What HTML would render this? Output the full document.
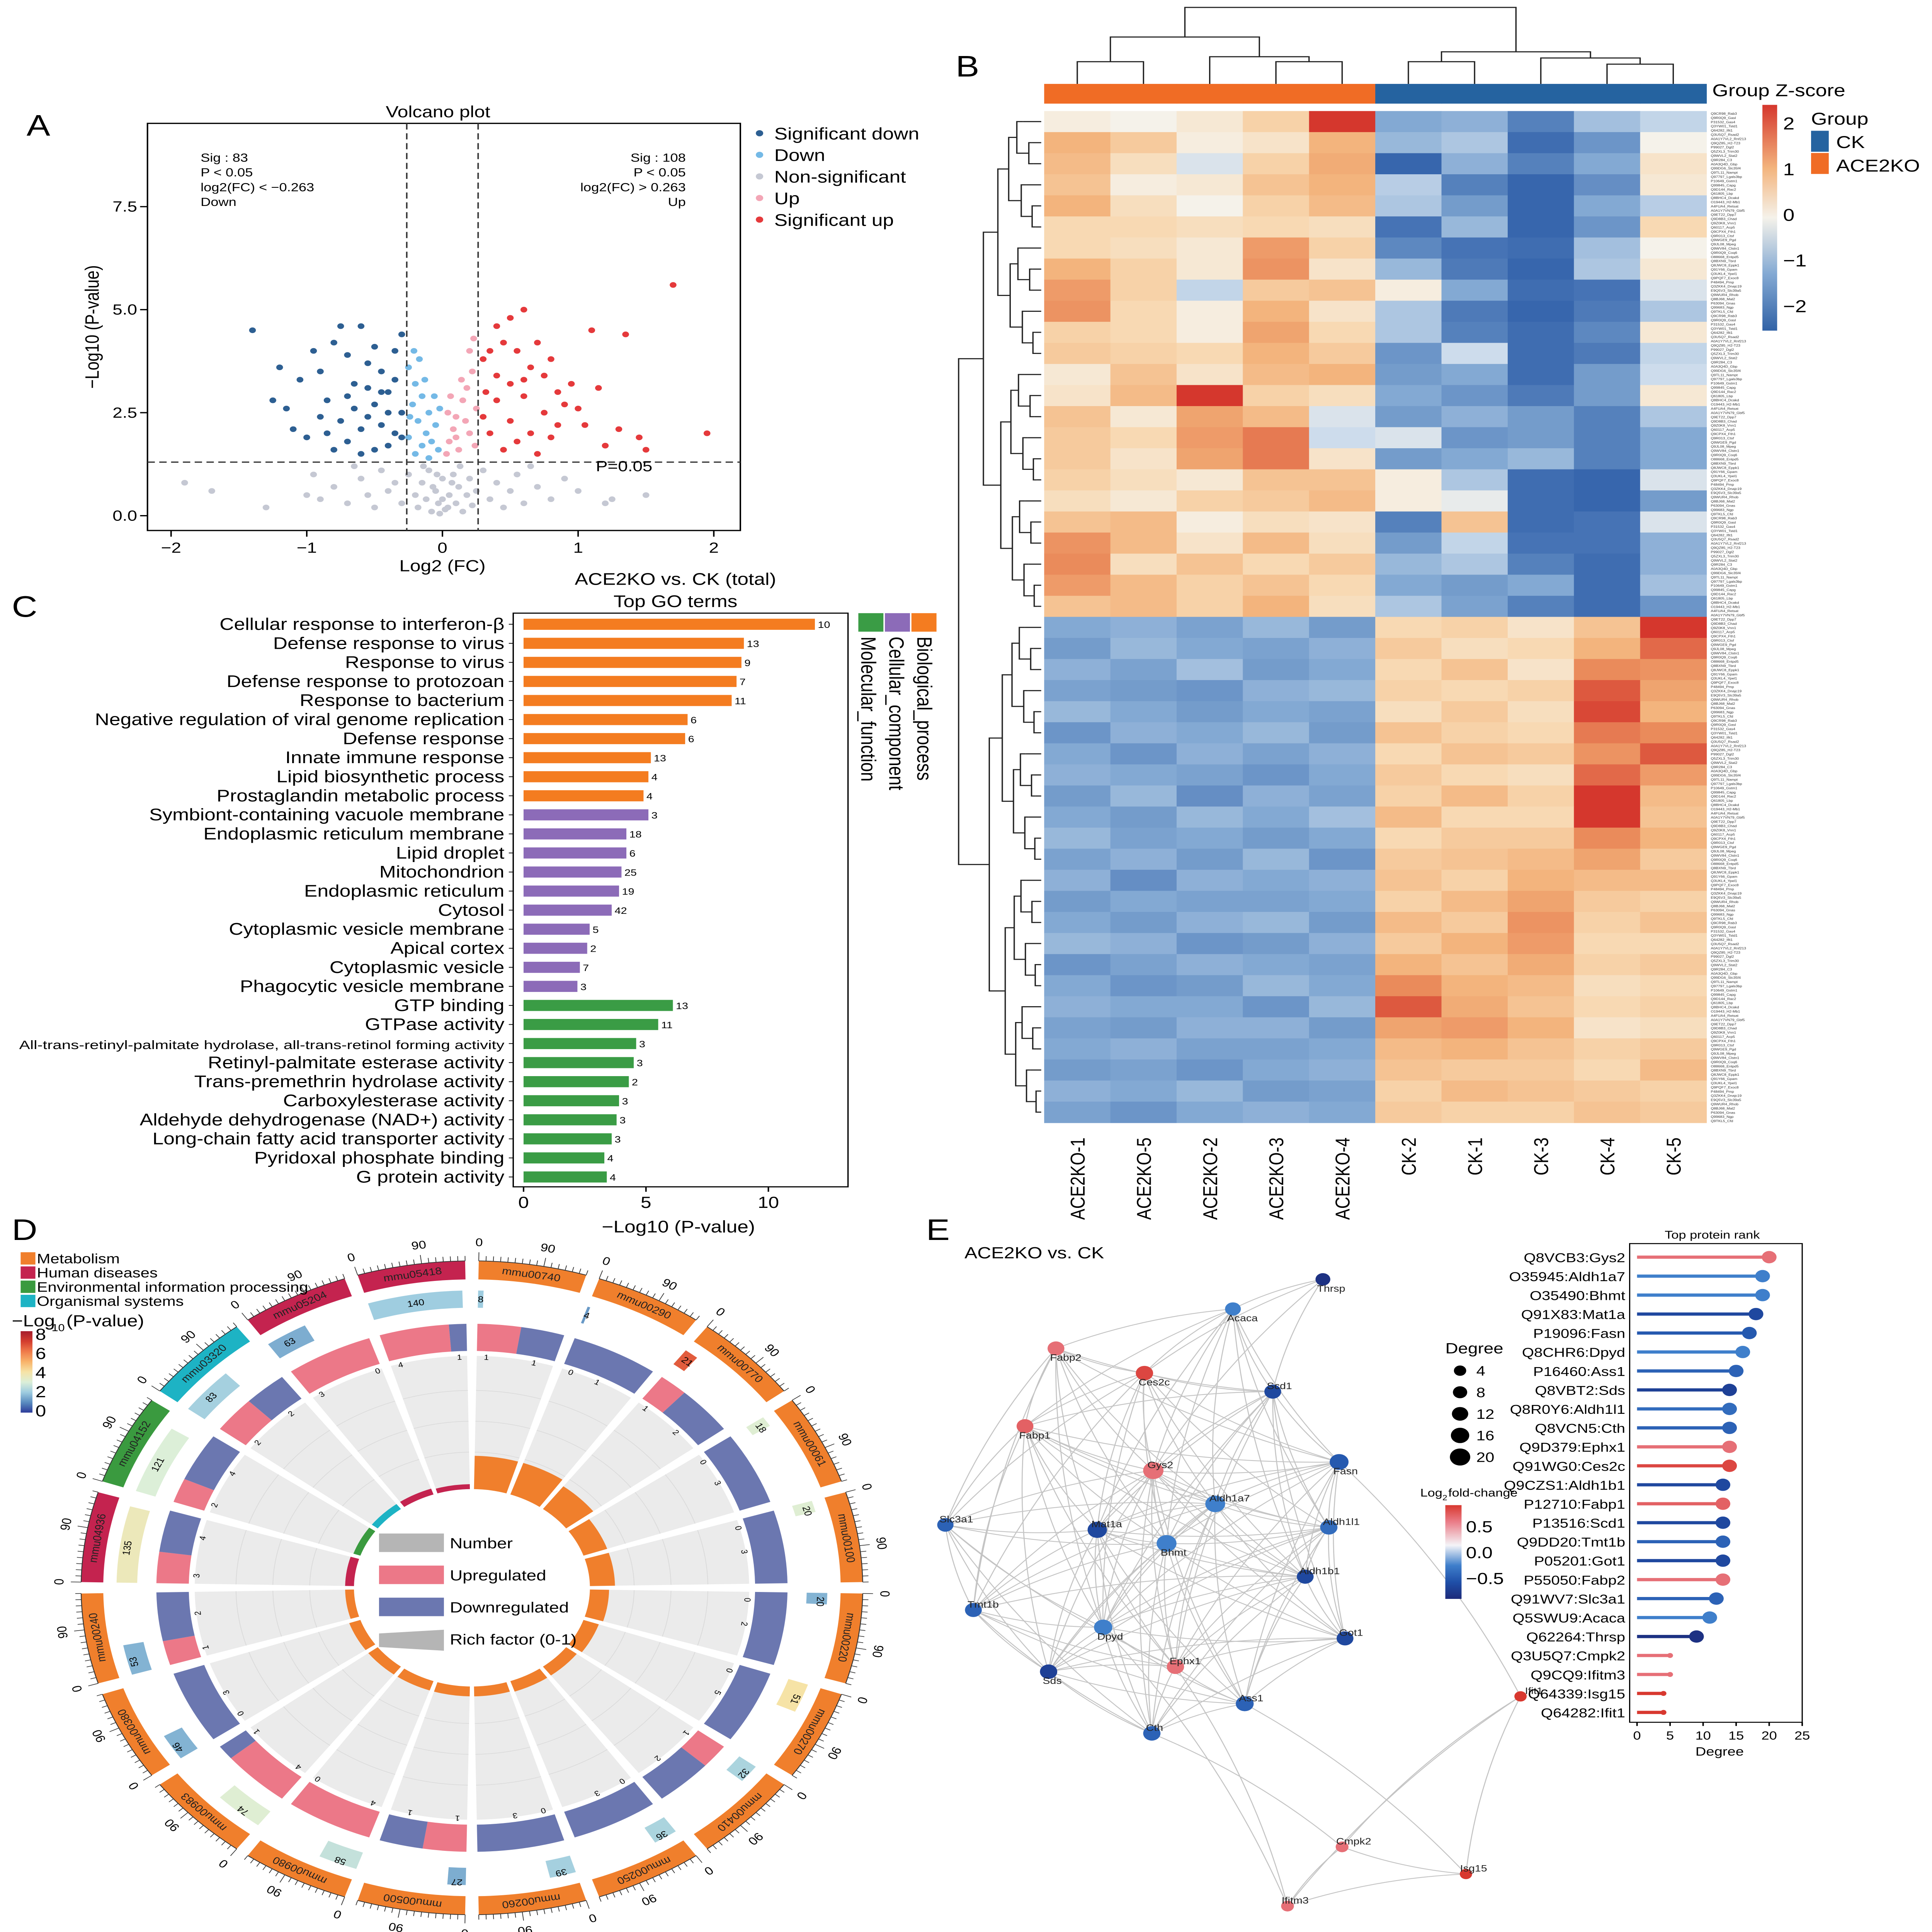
<!DOCTYPE html>
<html><head><meta charset="utf-8"><style>html,body{margin:0;padding:0;background:#fff;overflow:hidden;width:100vw;height:100vh}svg{display:block;width:100vw;height:100vh}</style></head>
<body>
<svg id="fig" xmlns="http://www.w3.org/2000/svg" viewBox="0 0 1310 1566" preserveAspectRatio="none" font-family="'Liberation Sans', Arial, sans-serif">
<rect x="0" y="0" width="1310" height="1566" fill="#fff"/>
<g id="pA"></g>
<g id="pB"></g>
<g id="pC"></g>
<g id="pD"></g>
<g id="pE"></g>
</svg>
<script>
// ===== Panel A data =====
const volX = [-1.4,-1.2,-1.05,-1.15,-1.25,-0.95,-0.9,-0.85,-0.8,-0.75,-0.7,-0.65,-0.6,-0.55,-0.5,-0.45,-0.4,-0.35,-0.3,-0.3,-0.35,-0.4,-0.45,-0.5,-0.55,-0.6,-0.65,-0.7,-0.75,-0.8,-0.85,-0.9,-1.0,-0.5,-0.4,-0.6,-0.3,-0.45,-0.55,-0.35,-1.1,-0.7,
-0.25,-0.2,-0.15,-0.1,-0.05,-0.22,-0.18,-0.12,-0.08,-0.03,-0.25,-0.2,-0.15,-0.1,-0.24,-0.17,-0.06,-0.13,-0.21,-0.02,
0.03,0.05,0.08,0.1,0.12,0.15,0.18,0.2,0.22,0.25,0.06,0.14,0.2,0.24,0.17,0.1,0.04,0.23,
1.7,1.1,1.35,0.6,0.5,0.45,0.4,0.35,0.3,0.55,0.65,0.7,0.75,0.8,0.85,0.9,0.95,1.0,1.05,1.2,1.3,1.45,1.5,1.95,0.3,0.35,0.4,0.45,0.5,0.55,0.6,0.65,0.7,0.75,0.8,0.85,0.5,0.4,0.6,0.32,1.15,
-1.0,-0.9,-0.8,-0.7,-0.6,-0.55,-0.5,-0.45,-0.4,-0.35,-0.3,-0.25,-0.2,-0.18,-0.15,-0.12,-0.1,-0.08,-0.05,-0.03,0,0.02,0.05,0.08,0.1,0.12,0.15,0.18,0.2,0.22,0.25,0.3,0.35,0.4,0.45,0.5,0.55,0.6,0.7,0.8,0.9,1.0,1.2,1.5,-1.3,-0.95,-0.65,0.65,-0.02,0.0,-0.07,0.07,-0.14,0.13,0.04,-0.04,-1.9,-1.7,1.25];
const volY = [4.5,3.6,3.3,2.6,2.8,4.0,3.5,2.8,4.2,4.6,3.9,3.2,4.6,3.7,4.1,3.5,3.0,4.0,4.4,2.5,2.0,2.5,2.2,2.7,2.4,2.1,2.6,1.8,2.3,1.6,2.0,2.4,1.9,1.6,1.7,1.5,1.9,3.0,3.1,3.3,2.1,2.9,
3.6,3.2,2.9,2.5,2.2,2.7,2.3,2.0,1.8,1.6,1.9,1.5,1.7,1.4,2.4,3.8,2.9,3.3,4.0,2.6,
1.5,1.8,2.1,2.4,1.6,2.8,3.1,2.0,3.5,2.6,2.9,3.3,4.0,1.7,2.3,1.9,2.5,4.3,
5.6,4.5,4.4,5.0,4.8,4.2,4.6,4.0,3.8,4.0,3.6,4.2,3.4,3.8,3.0,2.7,3.2,2.6,2.2,1.7,2.1,1.9,1.6,2.0,2.4,2.0,2.8,1.6,2.3,1.8,2.9,2.0,1.5,2.5,1.9,2.2,3.2,3.4,3.3,3.0,3.1,
0.5,0.4,0.7,0.3,0.9,0.5,0.2,1.1,0.6,0.8,0.3,1.0,0.5,0.2,0.8,0.4,1.1,0.1,0.6,0.3,0.9,0.15,0.5,1.0,0.3,0.7,0.1,0.5,0.9,0.25,0.6,1.1,0.4,0.8,0.2,0.6,1.0,0.3,0.7,0.4,0.9,0.6,0.3,0.5,0.2,1.0,1.2,1.2,0.05,0.4,0.7,0.8,1.2,1.2,0.2,1.0,0.8,0.6,0.4];
const volXTicks = [-2,-1,0,1,2];
const volYTicks = [0,2.5,5,7.5];
const volYLabels = ['0.0','2.5','5.0','7.5'];

// ===== Panel B data =====
const hmCols = ['ACE2KO-1','ACE2KO-5','ACE2KO-2','ACE2KO-3','ACE2KO-4','CK-2','CK-1','CK-3','CK-4','CK-5'];
const hmGroups = ['ACE2KO','ACE2KO','ACE2KO','ACE2KO','ACE2KO','CK','CK','CK','CK','CK'];
const hmRows = [
[0.1,0.0,0.2,0.6,2.0,-1.0,-0.9,-1.6,-0.7,-0.4],
[1.0,0.7,0.1,0.3,1.0,-0.8,-0.6,-1.9,-1.3,0.0],
[0.9,0.4,-0.2,0.6,1.1,-2.0,-0.9,-1.6,-1.0,0.3],
[0.8,0.1,0.2,0.8,1.0,-0.5,-1.6,-2.0,-1.4,0.2],
[1.0,0.4,0.0,0.6,0.9,-0.6,-1.2,-2.0,-1.0,-0.5],
[0.5,0.5,0.4,0.5,0.4,-1.8,-0.8,-2.0,-1.3,0.5],
[0.5,0.4,0.2,1.3,0.6,-1.5,-1.8,-1.9,-0.7,0.0],
[1.0,0.6,0.2,1.4,0.3,-0.8,-1.7,-2.0,-0.6,0.2],
[1.3,0.6,-0.4,0.7,0.8,0.1,-1.0,-1.9,-1.8,-0.2],
[1.4,0.5,0.1,1.0,0.3,-0.6,-1.7,-2.0,-1.7,-0.6],
[0.6,0.5,0.1,1.2,0.5,-0.6,-1.6,-1.9,-1.5,0.2],
[0.7,0.6,0.5,1.0,0.7,-1.3,-0.3,-1.9,-1.7,-0.4],
[0.2,0.8,0.3,0.9,1.0,-1.2,-1.0,-1.9,-1.2,-0.3],
[0.3,0.9,2.0,0.6,0.4,-1.0,-1.3,-1.7,-1.2,0.2],
[0.8,0.2,1.2,0.9,-0.2,-1.2,-0.9,-1.2,-1.6,-0.6],
[0.7,0.5,1.3,1.6,-0.3,-0.2,-1.3,-1.2,-1.6,-1.0],
[0.7,0.3,1.2,1.6,0.3,-1.2,-1.0,-0.8,-1.6,-1.0],
[0.6,0.4,0.2,0.8,0.8,0.1,-0.6,-1.9,-2.0,-0.2],
[0.4,0.2,0.6,0.7,0.9,0.1,-0.1,-1.9,-2.0,-1.2],
[0.8,0.9,0.1,0.4,0.3,-1.6,0.8,-1.9,-1.8,-0.2],
[1.4,0.9,0.3,0.9,0.4,-1.2,-0.4,-1.8,-1.8,-0.9],
[1.5,0.4,0.8,0.5,0.7,-0.8,-0.6,-1.6,-1.9,-0.9],
[1.3,0.9,0.6,0.8,0.5,-1.0,-1.2,-1.0,-1.9,-0.7],
[0.8,0.9,0.6,1.0,0.4,-0.6,-1.1,-1.6,-1.9,-1.3],
[-1.0,-0.9,-1.1,-0.8,-1.2,0.5,0.6,0.3,0.8,2.0],
[-1.2,-0.8,-1.0,-1.1,-0.9,0.7,0.4,0.5,1.0,1.7],
[-0.9,-1.1,-0.7,-1.2,-1.0,0.5,0.8,0.3,1.5,1.4],
[-1.1,-1.2,-1.3,-0.9,-0.8,0.6,0.5,0.6,1.8,1.2],
[-0.8,-1.0,-1.2,-1.0,-1.1,0.4,0.7,0.4,1.9,1.0],
[-1.3,-0.9,-1.0,-0.8,-1.2,0.8,0.6,0.5,1.6,1.5],
[-1.0,-1.3,-0.9,-1.1,-0.9,0.5,0.8,0.7,1.4,1.8],
[-0.9,-1.0,-1.1,-1.3,-1.0,0.7,0.5,0.4,1.7,1.3],
[-1.2,-0.8,-1.4,-0.9,-1.1,0.6,0.9,0.6,2.1,0.9],
[-1.0,-1.2,-0.8,-1.0,-0.7,0.9,0.5,0.5,2.0,0.8],
[-0.8,-1.1,-1.0,-1.2,-1.0,0.5,0.7,0.7,1.5,1.0],
[-1.1,-0.9,-1.2,-0.8,-1.3,0.7,0.8,0.9,1.2,0.7],
[-0.9,-1.4,-0.9,-1.0,-0.9,0.8,0.6,1.0,0.9,0.9],
[-1.2,-1.0,-1.1,-1.1,-1.0,0.6,0.9,1.2,0.7,0.6],
[-1.0,-1.2,-0.9,-0.8,-1.2,0.9,0.7,1.4,0.6,0.8],
[-0.8,-0.9,-1.3,-1.2,-0.9,0.7,1.0,1.3,0.5,0.5],
[-1.3,-1.1,-0.9,-1.0,-1.1,1.0,0.8,1.1,0.6,0.7],
[-1.0,-1.3,-1.2,-0.8,-1.0,1.5,1.0,0.9,0.4,0.5],
[-0.9,-1.0,-1.0,-1.3,-0.8,1.8,1.1,0.8,0.5,0.6],
[-1.1,-1.2,-0.9,-0.9,-1.2,1.2,1.3,1.0,0.3,0.4],
[-1.0,-0.9,-1.1,-1.1,-1.0,0.9,1.0,0.8,0.6,0.7],
[-1.2,-1.1,-1.3,-1.0,-0.9,0.8,0.7,0.7,0.5,0.9],
[-0.9,-1.0,-0.8,-1.2,-1.1,0.6,0.9,0.8,0.7,0.6],
[-1.1,-1.3,-1.0,-0.9,-1.0,0.7,0.6,0.6,0.8,0.7]];
const hmRowNames = ['Q9CR98_Rab3','Q9R0Q9_Gasl','P31532_Gas4','Q3YW01_Tstd1','Q64282_Ifit1','Q3U5Q7_Rsad2','A0A1Y7VL2_Rnf213','Q9QZ85_H2-T23','P99027_Dgl2','Q5ZXL3_Trim30','Q9WVL2_Stat2','Q9R284_C3','A0A3Q4D_Gbp','Q99DG6_Slc35f4','Q9TL11_Nampt','Q97797_Lgals3bp','P10649_Gstm1','Q99845_Capg','Q9D144_Rac2','Q61805_Lbp','Q8BHC4_Dcakd','O19443_H2-Mb1','A4FUA4_Retsat','A0A1Y7VN79_Gbf5','Q9ET22_Dpp7','Q9D8B3_Chad','Q9Z0K8_Vnn1','Q60117_Acp5','Q9CPX4_Fth1','Q9R013_Ctsf','Q9WGE9_Pgd','Q9JL08_Mpeg','Q9WV84_Clstn1','Q9R0Q9_Coq6','O88668_Entpd5','Q8BXN9_Tbrd','Q8JWC8_Eppk1','Q91Y66_Gpam','Q3UKL4_Ypel1','Q9PQF7_Exoc8','P48494_Pmp','Q3ZKK4_Dnajc19','E9Q5V3_Slc39a5','Q9WUR4_Rhob','Q8BJ68_Mal2','P63094_Gnas','Q99683_Ngp','Q9TKL5_Cfd'];
// ===== Panel C data =====
const goTerms = ['Cellular response to interferon-\u03b2','Defense response to virus','Response to virus','Defense response to protozoan','Response to bacterium','Negative regulation of viral genome replication','Defense response','Innate immune response','Lipid biosynthetic process','Prostaglandin metabolic process','Symbiont-containing vacuole membrane','Endoplasmic reticulum membrane','Lipid droplet','Mitochondrion','Endoplasmic reticulum','Cytosol','Cytoplasmic vesicle membrane','Apical cortex','Cytoplasmic vesicle','Phagocytic vesicle membrane','GTP binding','GTPase activity','All-trans-retinyl-palmitate hydrolase, all-trans-retinol forming activity','Retinyl-palmitate esterase activity','Trans-premethrin hydrolase activity','Carboxylesterase activity','Aldehyde dehydrogenase (NAD+) activity','Long-chain fatty acid transporter activity','Pyridoxal phosphate binding','G protein activity'];
const goValues = [11.9,9.0,8.9,8.7,8.5,6.7,6.6,5.2,5.1,4.9,5.1,4.2,4.2,4.0,3.9,3.6,2.7,2.6,2.3,2.2,6.1,5.5,4.6,4.5,4.3,3.9,3.8,3.6,3.3,3.4];
const goCounts = [10,13,9,7,11,6,6,13,4,4,3,18,6,25,19,42,5,2,7,3,13,11,3,3,2,3,3,3,4,4];
const goTypes = ['BP','BP','BP','BP','BP','BP','BP','BP','BP','BP','CC','CC','CC','CC','CC','CC','CC','CC','CC','CC','MF','MF','MF','MF','MF','MF','MF','MF','MF','MF'];
const goXTicks = [0,5,10];
// ===== Panel D data =====
const pwNames = ['mmu00740','mmu00290','mmu00770','mmu00061','mmu00100','mmu00220','mmu00270','mmu00410','mmu00250','mmu00260','mmu00500','mmu00980','mmu00983','mmu00380','mmu00240','mmu04936','mmu04152','mmu03320','mmu05204','mmu05418'];
const pwCats = ['M','M','M','M','M','M','M','M','M','M','M','M','M','M','M','H','E','O','H','H'];
const pwNumbers = [8,4,21,18,20,20,51,32,36,39,27,58,74,46,53,135,121,83,63,140];
const pwLogP = [2.0,1.2,6.5,3.1,3.1,1.6,4.0,2.2,2.2,2.1,1.5,2.6,3.1,1.6,1.6,3.6,3.0,2.1,1.5,2.0];
const pwUp = [1,0,1,0,0,0,0,1,0,0,1,4,4,0,1,3,2,2,3,4];
const pwDown = [1,1,2,3,3,2,5,2,3,3,1,0,1,3,2,4,4,2,0,1];
const pwRich = [0.27,0.27,0.23,0.17,0.17,0.13,0.11,0.09,0.09,0.08,0.08,0.08,0.08,0.08,0.06,0.06,0.05,0.05,0.05,0.04];
// ===== Panel E data =====
const rankNames = ['Q8VCB3:Gys2','O35945:Aldh1a7','O35490:Bhmt','Q91X83:Mat1a','P19096:Fasn','Q8CHR6:Dpyd','P16460:Ass1','Q8VBT2:Sds','Q8R0Y6:Aldh1l1','Q8VCN5:Cth','Q9D379:Ephx1','Q91WG0:Ces2c','Q9CZS1:Aldh1b1','P12710:Fabp1','P13516:Scd1','Q9DD20:Tmt1b','P05201:Got1','P55050:Fabp2','Q91WV7:Slc3a1','Q5SWU9:Acaca','Q62264:Thrsp','Q3U5Q7:Cmpk2','Q9CQ9:Ifitm3','Q64339:Isg15','Q64282:Ifit1'];
const rankDegree = [20,19,19,18,17,16,15,14,14,14,14,14,13,13,13,13,13,13,12,11,9,5,5,4,4];
const rankFC = [0.4,-0.3,-0.3,-0.6,-0.5,-0.3,-0.45,-0.65,-0.4,-0.45,0.4,0.55,-0.6,0.45,-0.6,-0.45,-0.6,0.4,-0.45,-0.3,-0.75,0.4,0.4,0.6,0.6];
const rankXTicks = [0,5,10,15,20,25];
const netNodes = ['Thrsp','Acaca','Fabp2','Ces2c','Scd1','Fabp1','Gys2','Fasn','Aldh1a7','Slc3a1','Mat1a','Bhmt','Aldh1l1','Aldh1b1','Tmt1b','Dpyd','Got1','Ephx1','Sds','Ass1','Cth','Ifit1','Cmpk2','Isg15','Ifitm3'];
const netX = [897,836,716,776,863,695,782,908,824,641,744,791,901,885,660,748,912,797,711,844,781,1031,910,994,873];
const netY = [1037,1061,1093,1113,1128,1156,1192,1185,1219,1236,1240,1251,1238,1278,1305,1319,1328,1351,1355,1381,1405,1375,1497,1519,1545];
const extraEdges = [['Ifit1','Fasn'],['Ifit1','Cmpk2'],['Ifit1','Isg15'],['Ifit1','Ifitm3'],['Cmpk2','Cth'],['Cmpk2','Isg15'],['Cmpk2','Ifitm3'],['Isg15','Ass1'],['Isg15','Ifitm3'],['Ifitm3','Ephx1'],['Ifitm3','Dpyd']];

const NS='http://www.w3.org/2000/svg';
function mk(p,tag,at,txt){const e=document.createElementNS(NS,tag);for(const k in at)e.setAttribute(k,at[k]);if(txt!=null)e.textContent=txt;p.appendChild(e);return e;}
function lerpColor(stops,v){ if(v<=stops[0][0])return stops[0][1]; for(let i=1;i<stops.length;i++){if(v<=stops[i][0]){const a=stops[i-1],b=stops[i];const t=(v-a[0])/(b[0]-a[0]);const c1=hx(a[1]),c2=hx(b[1]);return 'rgb('+c1.map((c,j)=>Math.round(c+(c2[j]-c)*t)).join(',')+')';}} return stops[stops.length-1][1];}
function hx(h){return [1,3,5].map(i=>parseInt(h.substr(i,2),16));}
let el;

// ================= PANEL A =================
(function(){
const g=document.getElementById('pA');
const X=v=>300+92*v, Y=v=>418-33.4*v;
el=mk(g,'text',{x:18,y:110,'font-size':24},'A');


el=mk(g,'text',{x:297,y:95,'font-size':13,'text-anchor':'middle'},'Volcano plot');


el=mk(g,'rect',{x:100,y:100,width:402,height:330,fill:'none',stroke:'#000','stroke-width':1});


volXTicks.forEach(t=>{mk(g,'line',{x1:X(t),x2:X(t),y1:430,y2:435,stroke:'#000'});
 el=mk(g,'text',{x:X(t),y:448,'font-size':12,'text-anchor':'middle'},t<0?'\u2212'+(-t):String(t));
 
 });
volYTicks.forEach((t,i)=>{mk(g,'line',{x1:95,x2:100,y1:Y(t),y2:Y(t),stroke:'#000'});
 el=mk(g,'text',{x:93,y:Y(t)+4,'font-size':12,'text-anchor':'end'},volYLabels[i]);
 
 });
el=mk(g,'text',{x:300,y:463,'font-size':13,'text-anchor':'middle'},'Log2 (FC)');


el=mk(g,'text',{x:0,y:0,'font-size':13,'text-anchor':'middle',transform:'translate(67,265) rotate(-90)'},'\u2212Log10 (P-value)');


const col=(x,y)=>y<1.3?'#c5c8d3':(x<=-0.263?'#2d5f92':(x<0?'#74b9e6':(x<0.263?'#f3a6b6':'#e5393b')));
volX.forEach((x,i)=>{const y=volY[i];
 el=mk(g,'circle',{cx:X(x),cy:Y(y),r:2.3,fill:col(x,y)});
 
 });
mk(g,'line',{x1:X(-0.263),x2:X(-0.263),y1:100,y2:430,stroke:'#333','stroke-dasharray':'5,3'});
mk(g,'line',{x1:X(0.263),x2:X(0.263),y1:100,y2:430,stroke:'#333','stroke-dasharray':'5,3'});
mk(g,'line',{x1:100,x2:502,y1:Y(1.3),y2:Y(1.3),stroke:'#333','stroke-dasharray':'5,3'});
el=mk(g,'text',{x:404,y:382,'font-size':12},'P=0.05');


['Sig : 83','P < 0.05','log2(FC) < \u22120.263','Down'].forEach((t,i)=>mk(g,'text',{x:136,y:131+i*12,'font-size':9.5},t));
['Sig : 108','P < 0.05','log2(FC) > 0.263','Up'].forEach((t,i)=>mk(g,'text',{x:465,y:131+i*12,'font-size':9.5,'text-anchor':'end'},t));
const lg=[['Significant down','#2d5f92'],['Down','#74b9e6'],['Non-significant','#c5c8d3'],['Up','#f3a6b6'],['Significant up','#e5393b']];
lg.forEach((l,i)=>{const y=108+i*17.5;mk(g,'circle',{cx:515,cy:y,r:2.5,fill:l[1]});
 el=mk(g,'text',{x:525,y:y+5,'font-size':13.5},l[0]);
 
 });
})();

// ================= PANEL B =================
(function(){
const g=document.getElementById('pB');
el=mk(g,'text',{x:648,y:62,'font-size':24},'B');


const x0=708,x1=1157,y0=90,y1=910,cw=(x1-x0)/hmCols.length,rh=(y1-y0)/hmRows.length;
const stops=[[-2.2,'#3162a6'],[-2,'#3766ad'],[-1,'#83a9d3'],[-0.3,'#cddcec'],[0,'#f5f2ea'],[0.5,'#f8d9b3'],[1,'#f3b47d'],[1.5,'#ea8b5b'],[2,'#d5372d']];
hmRows.forEach((row,r)=>row.forEach((v,c)=>{
 el=mk(g,'rect',{x:x0+c*cw,y:y0+r*rh,width:cw+0.3,height:rh+0.3,fill:lerpColor(stops,v)});
 
 }));
hmGroups.forEach((gr,c)=>{el=mk(g,'rect',{x:x0+c*cw,y:68,width:cw+0.3,height:16,fill:gr==='CK'?'#2563a0':'#f06c25'});
 
 });
hmCols.forEach((n,c)=>{const cx=x0+(c+0.5)*cw;
 el=mk(g,'text',{x:0,y:0,'font-size':13.5,'text-anchor':'end',transform:`translate(${cx+5},922) rotate(-90)`},n);
 
 });
for(let i=0;i<240;i++){mk(g,'text',{x:1160,y:y0+3+i*(y1-y0)/240,'font-size':2.6,fill:'#333'},hmRowNames[i%hmRowNames.length]);}
const cxs=hmCols.map((n,c)=>x0+(c+0.5)*cw);
const st={stroke:'#222',fill:'none','stroke-width':0.9};
function br(xa,ya,xb,yb,yt){mk(g,'path',Object.assign({d:`M${xa},${ya}V${yt}H${xb}V${yb}`},st));}
br(cxs[3],68,cxs[4],68,50); const m34=(cxs[3]+cxs[4])/2;
br(cxs[2],68,m34,50,46); const m234=(cxs[2]+m34)/2;
br(cxs[0],68,cxs[1],68,50); const m01=(cxs[0]+cxs[1])/2;
br(m01,50,m234,46,30); const mA=(m01+m234)/2;
br(cxs[5],68,cxs[6],68,50); const m56=(cxs[5]+cxs[6])/2;
br(cxs[8],68,cxs[9],68,52); const m89=(cxs[8]+cxs[9])/2;
br(cxs[7],68,m89,52,47); const m789=(cxs[7]+m89)/2;
br(m56,50,m789,47,42); const mC=(m56+m789)/2;
br(mA,30,mC,42,6);
function tree(a,b,xr,depth){ if(b-a<=1){const y=y0+(a+0.5)*rh;mk(g,'line',Object.assign({x1:xr,x2:706,y1:y,y2:y},st));return y;}
 const m=Math.floor((a+b)/2);const xc=xr+ (706-xr)*(depth<1?0.3:0.25);
 const ya=tree(a,m,xc,depth+1),yb=tree(m,b,xc+((a*7+b*3)%5),depth+1);
 mk(g,'path',Object.assign({d:`M${xc},${ya}H${xr}V${yb}H${xc+((a*7+b*3)%5)}`},st));return (ya+yb)/2;}
tree(0,hmRows.length,650,0);
el=mk(g,'text',{x:1161,y:78,'font-size':14},'Group Z-score');


const defs=mk(g,'defs',{});const lgd=mk(defs,'linearGradient',{id:'zg',x1:0,y1:1,x2:0,y2:0});
[[0,'#3162a6'],[0.25,'#83a9d3'],[0.5,'#f5f2ea'],[0.72,'#f3b47d'],[1,'#d5372d']].forEach(s=>mk(lgd,'stop',{offset:s[0],'stop-color':s[1]}));
el=mk(g,'rect',{x:1195,y:85,width:10,height:183,fill:'url(#zg)'});


[['2',105],['1',142],['0',179],['\u22121',216],['\u22122',253]].forEach(t=>mk(g,'text',{x:1209,y:t[1],'font-size':14},t[0]));
mk(g,'text',{x:1228,y:101,'font-size':14},'Group');
el=mk(g,'rect',{x:1228,y:106,width:12,height:17,fill:'#2563a0'});


mk(g,'text',{x:1245,y:120,'font-size':14},'CK');
el=mk(g,'rect',{x:1228,y:124,width:12,height:17,fill:'#f06c25'});


mk(g,'text',{x:1245,y:139,'font-size':14},'ACE2KO');
})();

// ================= PANEL C =================
(function(){
const g=document.getElementById('pC');
el=mk(g,'text',{x:8,y:500,'font-size':24},'C');


const X=v=>355+16.6*v; const step=(954-506)/(goTerms.length-1);
const colr={BP:'#f47c20',CC:'#8c6bb8',MF:'#3a9c45'};
mk(g,'text',{x:458,y:474,'font-size':13.5,'text-anchor':'middle'},'ACE2KO vs. CK (total)');
mk(g,'text',{x:458,y:492,'font-size':13.5,'text-anchor':'middle'},'Top GO terms');
el=mk(g,'rect',{x:348,y:497,width:227,height:465,fill:'none',stroke:'#000','stroke-width':0.9});


goTerms.forEach((t,i)=>{const y=506+i*step;
 el=mk(g,'rect',{x:X(0),y:y-4.5,width:X(goValues[i])-X(0),height:9,fill:colr[goTypes[i]]});
 
 
 mk(g,'text',{x:X(goValues[i])+2,y:y+3,'font-size':7.5},String(goCounts[i]));
 const long=t.length>60;
 el=mk(g,'text',{x:342,y:y+4.5,'font-size':long?10:13.5,'text-anchor':'end'},t);
 if(long){el.setAttribute('textLength',329);el.setAttribute('lengthAdjust','spacingAndGlyphs');}
 
 
 mk(g,'line',{x1:345,x2:348,y1:y,y2:y,stroke:'#000','stroke-width':0.6});});
goXTicks.forEach(t=>{mk(g,'line',{x1:X(t),x2:X(t),y1:962,y2:966,stroke:'#000'});
 el=mk(g,'text',{x:X(t),y:979,'font-size':13,'text-anchor':'middle'},String(t));
 
 });
el=mk(g,'text',{x:460,y:999,'font-size':13.5,'text-anchor':'middle'},'\u2212Log10 (P-value)');


[['MF',582],['CC',600],['BP',618]].forEach(s=>{el=mk(g,'rect',{x:s[1],y:497,width:17,height:15,fill:colr[s[0]]});
 
 });
[['Biological_process',622],['Cellular_component',603],['Molecular_function',584]].forEach(s=>{
 el=mk(g,'text',{x:0,y:0,'font-size':14,transform:`translate(${s[1]},516) rotate(90)`},s[0]);
 
 });
})();

// ================= PANEL D =================
(function(){
const g=document.getElementById('pD');
el=mk(g,'text',{x:8,y:1005,'font-size':24},'D');


const cx=320,cy=1287,N=pwNames.length,span=360/N;
const P=(r,a)=>[cx+r*Math.sin(a*Math.PI/180),cy-r*Math.cos(a*Math.PI/180)];
function arc(r0,r1,a0,a1){const L=(a1-a0)>180?1:0;const p1=P(r1,a0),p2=P(r1,a1),p3=P(r0,a1),p4=P(r0,a0);
 return `M${p1[0]},${p1[1]}A${r1},${r1} 0 ${L} 1 ${p2[0]},${p2[1]}L${p3[0]},${p3[1]}A${r0},${r0} 0 ${L} 0 ${p4[0]},${p4[1]}Z`;}
const catCol={M:'#f07f2c',H:'#c4234f',E:'#3a9a3f',O:'#1db3c4'};
const pStops=[[0,'#2c3c9a'],[1,'#5a8cc0'],[2,'#9fcde0'],[3,'#dcefd8'],[4,'#f6e3a6'],[5,'#f8b36a'],[6,'#ef7b4a'],[7,'#d43d2f'],[8,'#a51c2c']];
pwNames.forEach((n,i)=>{const a0=i*span+1,a1=(i+1)*span-1,w=a1-a0;
 el=mk(g,'path',{d:arc(80,188,a0,a1),fill:'#ebebeb'});
 
 
 [110,135,160].forEach(r=>mk(g,'path',{d:`M${P(r,a0)}A${r},${r} 0 0 1 ${P(r,a1)}`,fill:'none',stroke:'#dadada','stroke-width':0.5}));
 el=mk(g,'path',{d:arc(80,80+pwRich[i]*100,a0,a1),fill:catCol[pwCats[i]]});
 
 
 const tot=pwUp[i]+pwDown[i];const au=a0+w*pwUp[i]/tot;const ad=a1;
 if(pwUp[i]>0){el=mk(g,'path',{d:arc(192,214,a0,au),fill:'#ec7888'});
  
  }
 if(pwDown[i]>0){el=mk(g,'path',{d:arc(192,214,au,ad),fill:'#6b77b0'});
  
  }
 let lp=P(185,a0+2);mk(g,'text',{x:0,y:0,'font-size':6,'text-anchor':'middle',transform:`translate(${lp[0]},${lp[1]}) rotate(${a0+2})`},String(pwUp[i]));
 lp=P(185,Math.min(au+(ad-au)/2,a1-1));mk(g,'text',{x:0,y:0,'font-size':6,'text-anchor':'middle',transform:`translate(${lp[0]},${lp[1]}) rotate(${au+(ad-au)/2})`},String(pwDown[i]));
 const an=a0+w*Math.min(pwNumbers[i]/145,1);
 el=mk(g,'path',{d:arc(227,241,a0,an),fill:lerpColor(pStops,pwLogP[i])});
 
 
 const np=P(234,(a0+an)/2);mk(g,'text',{x:0,y:0,'font-size':7,'text-anchor':'middle',transform:`translate(${np[0]},${np[1]+2.5}) rotate(${(a0+an)/2})`},String(pwNumbers[i]));
 el=mk(g,'path',{d:arc(250,265,a0,a1),fill:catCol[pwCats[i]]});
 
 
 const tp=P(257.5,(a0+a1)/2);
 el=mk(g,'text',{x:0,y:0,'font-size':8,'text-anchor':'middle',fill:'#222',transform:`translate(${tp[0]},${tp[1]}) rotate(${(a0+a1)/2}) translate(0,3)`},n);
 
 
 mk(g,'path',{d:`M${P(265,a0)}A265,265 0 0 1 ${P(265,a1)}`,fill:'none',stroke:'#333','stroke-width':0.6});
 for(let k=0;k<=15;k++){const a=a0+w*k/15;const big=k%9===0;const q1=P(265,a),q2=P(big?272:269,a);mk(g,'line',{x1:q1[0],y1:q1[1],x2:q2[0],y2:q2[1],stroke:'#333','stroke-width':0.5});}
 [[0,'0'],[9,'90']].forEach(t=>{const a=a0+w*t[0]/15;const q=P(280,a);mk(g,'text',{x:0,y:0,'font-size':9,'text-anchor':'middle',transform:`translate(${q[0]},${q[1]}) rotate(${a}) translate(0,3)`},t[1]);});
});
const lgs=[['Number','#b5b5b5'],['Upregulated','#ec7888'],['Downregulated','#6b77b0']];
lgs.forEach((l,i)=>{const y=1243+i*26;el=mk(g,'rect',{x:257,y:y,width:44,height:15,fill:l[1]});
 
 
 mk(g,'text',{x:305,y:y+12,'font-size':12},l[0]);});
mk(g,'polygon',{points:'257,1324 301,1321 301,1338 257,1335',fill:'#b5b5b5'});
mk(g,'text',{x:305,y:1333,'font-size':12},'Rich factor (0-1)');
[['Metabolism','M'],['Human diseases','H'],['Environmental information processing','E'],['Organismal systems','O']].forEach((c,i)=>{const y=1015+i*11.5;
 el=mk(g,'rect',{x:14,y:y,width:10,height:10,fill:catCol[c[1]]});
 
 
 mk(g,'text',{x:25,y:y+9,'font-size':11},c[0]);});
mk(g,'text',{x:8,y:1075,'font-size':13},'\u2212Log');
mk(g,'text',{x:35,y:1079,'font-size':8},'10');
mk(g,'text',{x:45,y:1075,'font-size':13},'(P-value)');
const defs=mk(g,'defs',{});const lgd=mk(defs,'linearGradient',{id:'pg',x1:0,y1:1,x2:0,y2:0});
pStops.forEach(s=>mk(lgd,'stop',{offset:s[0]/8,'stop-color':s[1]}));
el=mk(g,'rect',{x:14,y:1079,width:8,height:66,fill:'url(#pg)'});


['8','6','4','2','0'].forEach((t,i)=>mk(g,'text',{x:24,y:1086+i*15.5,'font-size':13},t));
})();

// ================= PANEL E =================
(function(){
const g=document.getElementById('pE');
el=mk(g,'text',{x:628,y:1005,'font-size':24},'E');


mk(g,'text',{x:654,y:1020,'font-size':13},'ACE2KO vs. CK');
const fcStops=[[-0.8,'#1d2a7a'],[-0.55,'#1f4fa8'],[-0.3,'#3f7fcb'],[0,'#f4f4f8'],[0.35,'#ea7d88'],[0.6,'#d8382f']];
const idx={};netNodes.forEach((n,i)=>idx[n]=i);
const deg={},fc={};rankNames.forEach((r,i)=>{const n=r.split(':')[1];deg[n]=rankDegree[i];fc[n]=rankFC[i];});
function edge(a,b){const x1=netX[a],y1=netY[a],x2=netX[b],y2=netY[b];const mx=(x1+x2)/2,my=(y1+y2)/2;const dx=x2-x1,dy=y2-y1;const k=0.08;
 el=mk(g,'path',{d:`M${x1},${y1}Q${mx-dy*k},${my+dx*k} ${x2},${y2}`,fill:'none',stroke:'#c4c4c4','stroke-width':0.7});
 
 }
const main=21;
for(let a=0;a<main;a++)for(let b=a+1;b<main;b++){const d=Math.hypot(netX[a]-netX[b],netY[a]-netY[b]);
 const hub=(netNodes[a]==='Gys2'||netNodes[b]==='Gys2');
 if(hub||d<235-(netNodes[a]==='Thrsp'||netNodes[b]==='Thrsp'?90:0))edge(a,b);}
extraEdges.forEach(e=>edge(idx[e[0]],idx[e[1]]));
netNodes.forEach((n,i)=>{
 el=mk(g,'circle',{cx:netX[i],cy:netY[i],r:3.5+deg[n]*0.17,fill:lerpColor(fcStops,fc[n])});
 
 
 el=mk(g,'text',{x:netX[i]+(n==='Ifit1'?3:-4),y:netY[i]+(['Fabp2','Fabp1','Ces2c','Acaca','Thrsp','Fasn','Bhmt','Sds','Dpyd'].includes(n)?10:-2),'font-size':7.5,'text-anchor':'start',fill:'#222'},n);
 
 });
mk(g,'text',{x:980,y:1097,'font-size':12},'Degree');
[4,8,12,16,20].forEach((d,i)=>{const y=1111+i*17.5;mk(g,'circle',{cx:990,cy:y,r:3.5+d*0.17,fill:'#000'});mk(g,'text',{x:1001,y:y+4,'font-size':11},String(d));});
mk(g,'text',{x:963,y:1213,'font-size':9},'Log');mk(g,'text',{x:978,y:1216,'font-size':6},'2');mk(g,'text',{x:982,y:1213,'font-size':9},' fold-change');
const defs=mk(g,'defs',{});const lgd=mk(defs,'linearGradient',{id:'fg',x1:0,y1:1,x2:0,y2:0});
fcStops.forEach(s=>mk(lgd,'stop',{offset:(s[0]+0.8)/1.4,'stop-color':s[1]}));
el=mk(g,'rect',{x:980,y:1220,width:11,height:76,fill:'url(#fg)'});


[['0.5',1242],['0.0',1263],['\u22120.5',1284]].forEach(t=>mk(g,'text',{x:994,y:t[1],'font-size':13},t[0]));
const X=v=>1110+4.48*v;const y0=1019,step=(1388-1019)/(rankNames.length-1);
mk(g,'text',{x:1161,y:1004,'font-size':9,'text-anchor':'middle'},'Top protein rank');
el=mk(g,'rect',{x:1105,y:1008,width:117,height:388,fill:'none',stroke:'#000','stroke-width':0.8});


rankNames.forEach((n,i)=>{const y=y0+i*step;const c=lerpColor(fcStops,rankFC[i]);
 el=mk(g,'line',{x1:X(0),x2:X(rankDegree[i]),y1:y,y2:y,stroke:c,'stroke-width':2.6});
 
 
 el=mk(g,'circle',{cx:X(rankDegree[i]),cy:y,r:rankDegree[i]>=9?5:2,fill:c});
 
 
 el=mk(g,'text',{x:1102,y:y+4,'font-size':10.5,'text-anchor':'end'},n);
 
 });
rankXTicks.forEach(t=>{mk(g,'line',{x1:X(t),x2:X(t),y1:1396,y2:1399,stroke:'#000'});
 el=mk(g,'text',{x:X(t),y:1410,'font-size':9.5,'text-anchor':'middle'},String(t));
 
 });
el=mk(g,'text',{x:1166,y:1423,'font-size':10,'text-anchor':'middle'},'Degree');


})();
</script>
</body></html>
